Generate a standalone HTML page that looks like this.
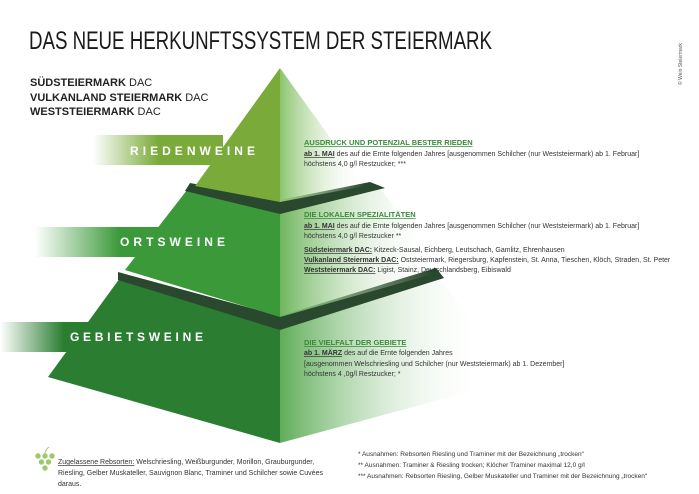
<!DOCTYPE html>
<html><head><meta charset="utf-8"><style>
html,body{margin:0;padding:0;background:#fff;}
svg{display:block;font-family:"Liberation Sans",sans-serif;}
</style></head><body>
<svg width="699" height="494" viewBox="0 0 699 494" xmlns="http://www.w3.org/2000/svg">
<defs>
<linearGradient id="r1" x1="0" y1="0" x2="1" y2="0"><stop offset="0" stop-color="#8cc46f"/><stop offset="1" stop-color="#fff" stop-opacity="0"/></linearGradient>
<linearGradient id="r2" x1="0" y1="0" x2="1" y2="0"><stop offset="0" stop-color="#6fb65e"/><stop offset="0.95" stop-color="#fff" stop-opacity="0"/></linearGradient>
<linearGradient id="r3" x1="0" y1="0" x2="1" y2="0"><stop offset="0" stop-color="#5fad58"/><stop offset="0.85" stop-color="#fff" stop-opacity="0"/></linearGradient>
<linearGradient id="b1" x1="0" y1="0" x2="1" y2="0"><stop offset="0" stop-color="#7aab3a" stop-opacity="0"/><stop offset="0.5" stop-color="#7aab3a"/></linearGradient>
<linearGradient id="b2" x1="0" y1="0" x2="1" y2="0"><stop offset="0" stop-color="#3b993a" stop-opacity="0"/><stop offset="0.5" stop-color="#3b993a"/></linearGradient>
<linearGradient id="b3" x1="0" y1="0" x2="1" y2="0"><stop offset="0" stop-color="#2a7d31" stop-opacity="0"/><stop offset="0.4" stop-color="#2a7d31"/></linearGradient>
</defs>

<text x="29" y="49" font-size="25" fill="#1a1a1a" textLength="463" lengthAdjust="spacingAndGlyphs">DAS NEUE HERKUNFTSSYSTEM DER STEIERMARK</text>
<text transform="translate(682,85) rotate(-90)" font-size="5" fill="#555">© Wein Steiermark</text>

<text x="30" y="86" font-size="11" fill="#222"><tspan font-weight="bold">SÜDSTEIERMARK</tspan> DAC</text>
<text x="30" y="101" font-size="11" fill="#222"><tspan font-weight="bold">VULKANLAND STEIERMARK</tspan> DAC</text>
<text x="30" y="115" font-size="11" fill="#222"><tspan font-weight="bold">WESTSTEIERMARK</tspan> DAC</text>

<!-- tier 3 -->
<polygon points="120,278 280,328 280,443 48,377" fill="#2a7d31"/>
<polygon points="280,328 440,280 520,378 280,443" fill="url(#r3)"/>
<polygon points="118,272 280,316 436,268 444,278 280,330 118,280" fill="#29482d"/>
<!-- tier 2 -->
<polygon points="187,190 280,213 280,317 125,270" fill="#3b993a"/>
<polygon points="280,213 380,188 440,272 280,317" fill="url(#r2)"/>
<polygon points="190,183 280,200 370,182 385,188 280,214 185,191" fill="#29482d"/>
<!-- tier 1 -->
<polygon points="280,68 195,186 280,202" fill="#7aab3a"/>
<polygon points="280,68 280,202 365,186" fill="url(#r1)"/>

<!-- banners -->
<rect x="93" y="135" width="130" height="30" fill="url(#b1)"/>
<rect x="35" y="227" width="170" height="30" fill="url(#b2)"/>
<rect x="0" y="322" width="160" height="30" fill="url(#b3)"/>
<text x="130" y="155" font-size="12" font-weight="bold" fill="#fff" textLength="125" lengthAdjust="spacing">RIEDENWEINE</text>
<text x="120" y="246" font-size="12" font-weight="bold" fill="#fff" textLength="105" lengthAdjust="spacing">ORTSWEINE</text>
<text x="70" y="341" font-size="12" font-weight="bold" fill="#fff" textLength="133" lengthAdjust="spacing">GEBIETSWEINE</text>

<g font-size="7" fill="#333">
<text x="304" y="145" font-weight="bold" fill="#3a8a3a" text-decoration="underline" font-size="7.5">AUSDRUCK UND POTENZIAL BESTER RIEDEN</text>
<text x="304" y="156"><tspan font-weight="bold" text-decoration="underline">ab 1. MAI</tspan> des auf die Ernte folgenden Jahres [ausgenommen Schilcher (nur Weststeiermark) ab 1. Februar]</text>
<text x="304" y="166">höchstens 4,0 g/l Restzucker; ***</text>

<text x="304" y="217" font-weight="bold" fill="#3a8a3a" text-decoration="underline" font-size="7.5">DIE LOKALEN SPEZIALITÄTEN</text>
<text x="304" y="228"><tspan font-weight="bold" text-decoration="underline">ab 1. MAI</tspan> des auf die Ernte folgenden Jahres [ausgenommen Schilcher (nur Weststeiermark) ab 1. Februar]</text>
<text x="304" y="238">höchstens 4,0 g/l Restzucker **</text>
<text x="304" y="252"><tspan font-weight="bold" text-decoration="underline">Südsteiermark DAC:</tspan> Kitzeck-Sausal, Eichberg, Leutschach, Gamlitz, Ehrenhausen</text>
<text x="304" y="262"><tspan font-weight="bold" text-decoration="underline">Vulkanland Steiermark DAC:</tspan> Oststeiermark, Riegersburg, Kapfenstein, St. Anna, Tieschen, Klöch, Straden, St. Peter</text>
<text x="304" y="272"><tspan font-weight="bold" text-decoration="underline">Weststeiermark DAC:</tspan> Ligist, Stainz, Deutschlandsberg, Eibiswald</text>

<text x="304" y="345" font-weight="bold" fill="#3a8a3a" text-decoration="underline" font-size="7.5">DIE VIELFALT DER GEBIETE</text>
<text x="304" y="355"><tspan font-weight="bold" text-decoration="underline">ab 1. MÄRZ</tspan> des auf die Ernte folgenden Jahres</text>
<text x="304" y="366">[ausgenommen Welschriesling und Schilcher (nur Weststeiermark) ab 1. Dezember]</text>
<text x="304" y="376">höchstens 4 ,0g/l Restzucker; *</text>

<text x="58" y="464"><tspan text-decoration="underline">Zugelassene Rebsorten:</tspan> Welschriesling, Weißburgunder, Morillon, Grauburgunder,</text>
<text x="58" y="475">Riesling, Gelber Muskateller, Sauvignon Blanc, Traminer und Schilcher sowie Cuvées</text>
<text x="58" y="486">daraus.</text>

<text x="358" y="456" font-size="6.5">*   Ausnahmen: Rebsorten Riesling und Traminer mit der Bezeichnung „trocken“</text>
<text x="358" y="467" font-size="6.5">**  Ausnahmen:  Traminer &amp; Riesling trocken; Klöcher Traminer maximal 12,0 g/l</text>
<text x="358" y="478" font-size="6.5">*** Ausnahmen: Rebsorten Riesling, Gelber Muskateller und Traminer mit der Bezeichnung „trocken“</text>
</g>

<g fill="#9bc96b">
<circle cx="38" cy="456" r="2.7"/><circle cx="45" cy="456" r="2.7"/><circle cx="52" cy="456" r="2.7"/>
<circle cx="41.5" cy="462" r="2.7"/><circle cx="48.5" cy="462" r="2.7"/>
<circle cx="45" cy="468" r="2.7"/>
<path d="M45 453 Q46 449 49 447" stroke="#9bc96b" fill="none" stroke-width="1"/>
</g>
</svg>
</body></html>
